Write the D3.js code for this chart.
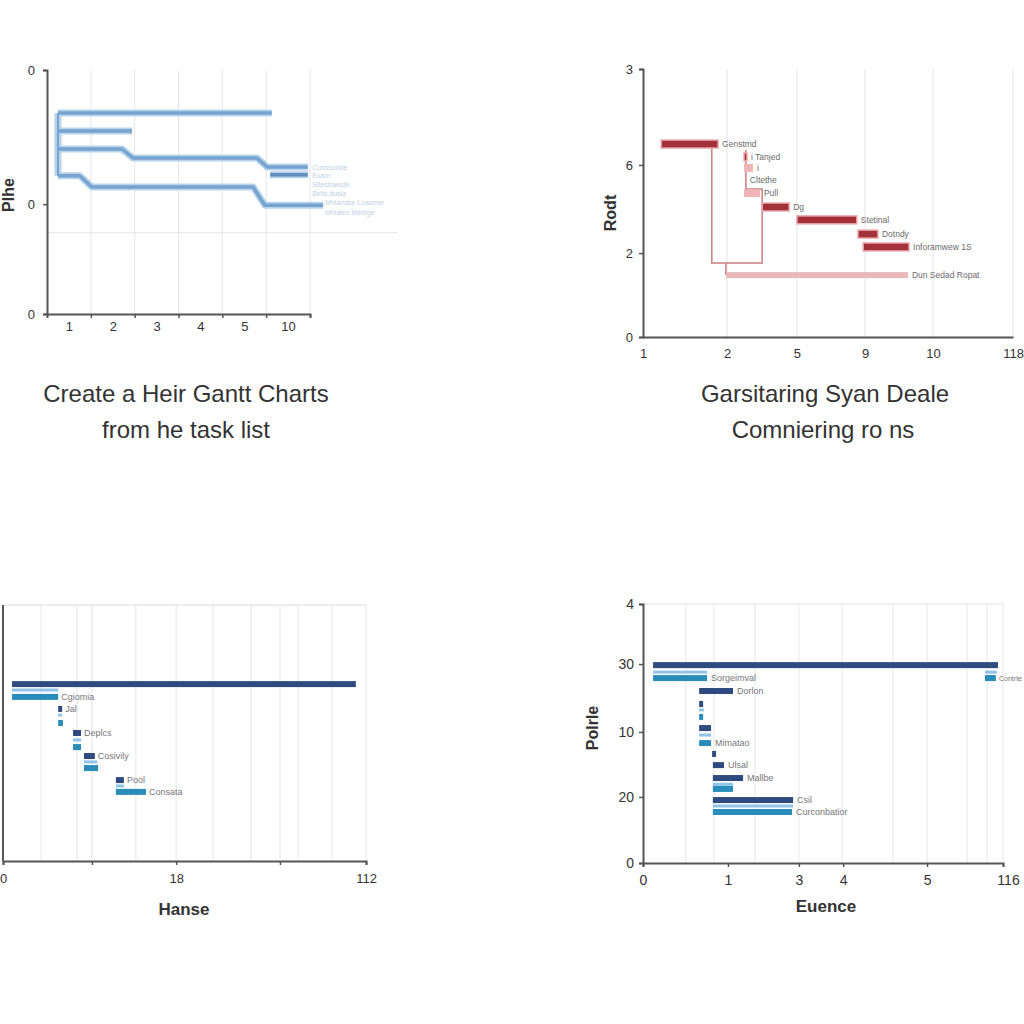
<!DOCTYPE html>
<html><head><meta charset="utf-8">
<script src="https://cdn.jsdelivr.net/npm/d3@7"></script>
<style>body{margin:0;background:#fff}svg{display:block}text{font-family:"Liberation Sans",Arial,sans-serif}</style>
</head><body><svg id="c" width="1024" height="1024"></svg>
<script>
// ---------- Panel 1 (top-left): step lines ----------
const p1GridTicks = [1, 2, 3, 4, 5, 6];
const p1XLabelPos = [0.5, 1.5, 2.5, 3.5, 4.5, 5.5];
const p1XLabels = ["1", "2", "3", "4", "5", "10"];
const p1YTicks = [0, 13.2, 24];
const p1YLabels = ["0", "0", "0"];
const p1HGrid = [16];
const p1Lines = [
  [[0.25, 4.23], [5.13, 4.23]],
  [[0.25, 6.0], [1.94, 6.0]],
  [[0.25, 7.77], [1.71, 7.77], [1.96, 8.65], [4.79, 8.65], [5.02, 9.54], [5.95, 9.54]],
  [[0.25, 10.4], [0.75, 10.4], [1.02, 11.5], [4.70, 11.5], [4.97, 13.3], [6.30, 13.3]],
  [[0.25, 4.23], [0.25, 10.4]],
  [[5.09, 10.3], [5.95, 10.3]]
];
const p1FadedText = ["Cusssorste", "Exam", "Sitestraeste", "Bells dusla", "Mhlandse Loasmer", "Mhlates Medige"];
const p1FadedX = [6.05, 6.05, 6.05, 6.05, 6.34, 6.34];
const p1FadedY = [9.54, 10.3, 11.2, 12.1, 13.0, 14.0];

// ---------- Panel 2 (top-right): red gantt ----------
const p2XTicks = [0, 22.7, 41.6, 60, 78.4, 100];
const p2XLabels = ["1", "2", "5", "9", "10", "118"];
const p2YTicks = [100, 64.2, 31.3, 0];
const p2YLabels = ["3", "6", "2", "0"];
const p2Tasks = ["Genstmd", "i Tanjed", "i", "Cltethe", "Pull", "Dg", "Stetinal", "Dotndy", "Inforamwew 1S", "Dun Sedad Ropat"];
const p2Start = [4.9, 27.3, 27.3, 27.8, 27.3, 32.2, 41.6, 58.1, 59.5, 22.4];
const p2End   = [20.3, 28.1, 29.7, 27.8, 31.6, 39.5, 57.8, 63.5, 71.9, 71.6];
const p2Row   = [72.0, 67.2, 63.1, 58.6, 53.7, 48.5, 43.7, 38.4, 33.6, 23.1];
const p2Kind  = ["d", "d", "p", "p", "p", "d", "d", "d", "d", "l"];
const p2Links = [
  [[18.6, 72.0], [18.6, 27.6], [32.2, 27.6], [32.2, 55.2], [27.8, 55.2], [27.8, 69.8]],
  [[22.4, 27.6], [22.4, 23.1]]
];

// ---------- Panel 3 (bottom-left): blue gantt ----------
const p3Grid = [10.5, 20.4, 24.5, 36.6, 47.7, 57.9, 68.3, 76.3, 81.3, 90.6, 100];
const p3XTicks = [0, 24.5, 47.7, 76.3, 100];
const p3XLabels = ["0", "", "18", "", "112"];
const p3Names = ["", "", "Cgiomia", "Jal", "", "", "Deplcs", "", "", "Cosivily", "", "", "Pool", "", "Consata"];
const p3Start = [2.5, 2.5, 2.5, 15.2, 15.2, 15.2, 19.3, 19.3, 19.3, 22.3, 22.3, 22.3, 31.1, 31.1, 31.1];
const p3End   = [97.2, 15.2, 15.2, 16.3, 16.3, 16.5, 21.5, 21.5, 21.5, 25.3, 26.0, 26.2, 33.3, 33.3, 39.4];
const p3Row   = [69.1, 66.8, 64.1, 59.4, 57.0, 53.9, 50.0, 47.3, 44.5, 41.0, 38.7, 36.3, 31.6, 29.3, 27.0];
const p3Kind  = ["n", "l", "t", "n", "l", "t", "n", "l", "t", "n", "l", "t", "n", "l", "t"];

// ---------- Panel 4 (bottom-right): blue gantt ----------
const p4Grid = [11.9, 19.7, 31.1, 43.3, 55.3, 69.4, 78.9, 90.0, 95.6, 100];
const p4XTicks = [0, 23.6, 43.3, 55.6, 78.9, 100];
const p4XLabels = ["0", "1", "3", "4", "5", "116"];
const p4YTicks = [100, 76.8, 50.6, 25.5, 0];
const p4YLabels = ["4", "30", "10", "20", "0"];
const p4Names = ["", "", "Sorgeimval", "", "Contrte", "Dorlon", "", "", "", "", "", "Mimatao", "", "Ulsal", "Mallbe", "", "", "Csil", "", "Curconbatior"];
const p4Start = [2.8, 2.8, 2.8, 95.0, 95.0, 15.6, 15.6, 15.6, 15.6, 15.6, 15.6, 15.6, 19.2, 19.4, 19.4, 19.4, 19.4, 19.4, 19.4, 19.4];
const p4End   = [98.6, 17.8, 17.8, 98.3, 98.0, 25.0, 16.7, 16.9, 16.7, 18.9, 18.9, 18.9, 20.3, 22.5, 27.8, 25.0, 25.0, 41.7, 41.7, 41.4];
const p4Row   = [76.4, 73.7, 71.4, 73.7, 71.4, 66.4, 61.4, 59.1, 56.4, 52.1, 49.4, 46.3, 42.1, 37.8, 32.8, 30.4, 28.6, 24.3, 22.0, 19.7];
const p4Kind  = ["n", "l", "t", "l", "t", "n", "n", "l", "t", "n", "l", "t", "n", "n", "n", "l", "t", "n", "l", "t"];

const svg = d3.select("#c");
const AX = "#555", GRID = "#e4e6ea", TXT = "#333";
function styleAxis(g, size) {
  g.select(".domain").attr("stroke", AX).attr("stroke-width", 2);
  g.selectAll(".tick line").attr("stroke", AX).attr("stroke-width", 1.5);
  g.selectAll(".tick text").attr("fill", TXT).style("font-size", size + "px")
    .style("font-family", '"Liberation Sans",Arial,sans-serif');
}

// ===== Panel 1 =====
{
  const x = d3.scaleLinear().domain([0, 6]).range([47, 310]);
  const y = d3.scaleLinear().domain([0, 24]).range([70, 314]);
  const g = svg.append("g");
  g.selectAll(".vg").data(p1GridTicks).join("line")
    .attr("x1", d => x(d)).attr("x2", d => x(d)).attr("y1", y(0)).attr("y2", y(24))
    .attr("stroke", GRID).attr("stroke-width", 1);
  g.selectAll(".hg").data(p1HGrid).join("line")
    .attr("x1", x(0)).attr("x2", x(8)).attr("y1", d => y(d)).attr("y2", d => y(d))
    .attr("stroke", GRID).attr("stroke-width", 1);
  const xa = g.append("g").attr("transform", `translate(0,${y(24)})`)
    .call(d3.axisBottom(x).tickValues(p1GridTicks).tickFormat("").tickSize(4));
  styleAxis(xa, 13);
  const xl = g.append("g").attr("transform", `translate(0,${y(24)})`)
    .call(d3.axisBottom(x).tickValues(p1XLabelPos).tickFormat((d, i) => p1XLabels[i]).tickSize(0).tickPadding(8));
  styleAxis(xl, 13); xl.select(".domain").remove();
  const ya = g.append("g").attr("transform", `translate(${x(0)},0)`)
    .call(d3.axisLeft(y).tickValues(p1YTicks).tickFormat((d, i) => p1YLabels[i]).tickSize(4).tickPadding(8));
  styleAxis(ya, 13);
  const line = d3.line().x(d => x(d[0])).y(d => y(d[1]));
  g.selectAll(".lo").data(p1Lines).join("path").attr("d", line)
    .attr("fill", "none").attr("stroke", "#b7d3ec").attr("stroke-width", 7).attr("stroke-linejoin", "round");
  g.selectAll(".li").data(p1Lines).join("path").attr("d", line)
    .attr("fill", "none").attr("stroke", (d, i) => i === 5 ? "#5f8fbd" : "#76a4cf")
    .attr("stroke-width", (d, i) => i === 4 ? 2 : 3.5).attr("stroke-linejoin", "round");
  g.selectAll(".ft").data(p1FadedText).join("text")
    .attr("x", (d, i) => x(p1FadedX[i])).attr("y", (d, i) => y(p1FadedY[i]) + 3)
    .attr("fill", "#bfd2e4").style("font-size", "7px").text(d => d);
  g.append("text").attr("transform", `translate(14,195) rotate(-90)`).attr("text-anchor", "middle")
    .attr("fill", TXT).style("font-size", "16px").style("font-weight", "bold").text("Plhe");
  g.append("text").attr("x", 186).attr("y", 402).attr("text-anchor", "middle").attr("fill", TXT)
    .style("font-size", "24px").text("Create a Heir Gantt Charts");
  g.append("text").attr("x", 186).attr("y", 438).attr("text-anchor", "middle").attr("fill", TXT)
    .style("font-size", "24px").text("from he task list");
}

// ===== Panel 2 =====
{
  const x = d3.scaleLinear().domain([0, 100]).range([643, 1013]);
  const y = d3.scaleLinear().domain([0, 100]).range([337, 69]);
  const g = svg.append("g");
  g.selectAll(".vg").data(p2XTicks.slice(1)).join("line")
    .attr("x1", d => x(d)).attr("x2", d => x(d)).attr("y1", y(0)).attr("y2", y(100))
    .attr("stroke", GRID);
  const xa = g.append("g").attr("transform", `translate(0,${y(0)})`)
    .call(d3.axisBottom(x).tickValues(p2XTicks).tickFormat((d, i) => p2XLabels[i]).tickSize(0).tickPadding(12));
  styleAxis(xa, 13);
  const ya = g.append("g").attr("transform", `translate(${x(0)},0)`)
    .call(d3.axisLeft(y).tickValues(p2YTicks).tickFormat((d, i) => p2YLabels[i]).tickSize(4).tickPadding(6));
  styleAxis(ya, 13);
  const line = d3.line().x(d => x(d[0])).y(d => y(d[1]));
  g.selectAll(".lk").data(p2Links).join("path").attr("d", line)
    .attr("fill", "none").attr("stroke", "#c97d82").attr("stroke-width", 1.5);
  const fill = { d: "#a2313a", p: "#efb4b6", l: "#ebb8b9" };
  g.selectAll(".b").data(p2Tasks).join("rect")
    .attr("x", (d, i) => x(p2Start[i])).attr("width", (d, i) => x(p2End[i]) - x(p2Start[i]))
    .attr("y", (d, i) => y(p2Row[i]) - (p2Kind[i] === "l" ? 3 : 4))
    .attr("height", (d, i) => p2Kind[i] === "l" ? 6 : 8)
    .attr("fill", (d, i) => fill[p2Kind[i]])
    .attr("stroke", (d, i) => p2Kind[i] === "d" ? "#ecaaae" : "none").attr("stroke-width", 1.5);
  g.selectAll(".bl").data(p2Tasks).join("text")
    .attr("x", (d, i) => x(p2End[i]) + 4).attr("y", (d, i) => y(p2Row[i]) + 3)
    .attr("fill", "#6b6b6b").style("font-size", "8.5px").text(d => d);
  g.append("text").attr("transform", `translate(616,213) rotate(-90)`).attr("text-anchor", "middle")
    .attr("fill", TXT).style("font-size", "16px").style("font-weight", "bold").text("Rodt");
  g.append("text").attr("x", 825).attr("y", 402).attr("text-anchor", "middle").attr("fill", TXT)
    .style("font-size", "24px").text("Garsitaring Syan Deale");
  g.append("text").attr("x", 823).attr("y", 438).attr("text-anchor", "middle").attr("fill", TXT)
    .style("font-size", "24px").text("Comniering ro ns");
}

const blueFill = { n: "#2f4a7f", l: "#8fc3ea", t: "#2a8cb8" };
const blueH = { n: 6, l: 3, t: 6 };

// ===== Panel 3 =====
{
  const x = d3.scaleLinear().domain([0, 100]).range([3, 366]);
  const y = d3.scaleLinear().domain([0, 100]).range([861, 605]);
  const g = svg.append("g");
  g.selectAll(".vg").data(p3Grid).join("line")
    .attr("x1", d => x(d)).attr("x2", d => x(d)).attr("y1", y(0)).attr("y2", y(100))
    .attr("stroke", GRID);
  g.append("line").attr("x1", x(0)).attr("x2", x(100)).attr("y1", y(100)).attr("y2", y(100)).attr("stroke", "#d8dade");
  const xa = g.append("g").attr("transform", `translate(0,${y(0)})`)
    .call(d3.axisBottom(x).tickValues(p3XTicks).tickFormat((d, i) => p3XLabels[i]).tickSize(4).tickPadding(9));
  styleAxis(xa, 13);
  g.append("line").attr("x1", x(0)).attr("x2", x(0)).attr("y1", y(0)).attr("y2", y(100)).attr("stroke", AX).attr("stroke-width", 2);
  g.selectAll(".b").data(p3Names).join("rect")
    .attr("x", (d, i) => x(p3Start[i])).attr("width", (d, i) => x(p3End[i]) - x(p3Start[i]))
    .attr("y", (d, i) => y(p3Row[i]) - blueH[p3Kind[i]] / 2).attr("height", (d, i) => blueH[p3Kind[i]])
    .attr("fill", (d, i) => blueFill[p3Kind[i]]);
  g.selectAll(".bl").data(p3Names).join("text")
    .attr("x", (d, i) => x(p3End[i]) + 3).attr("y", (d, i) => y(p3Row[i]) + 3)
    .attr("fill", "#777").style("font-size", "9px").text(d => d);
  g.append("text").attr("x", 184).attr("y", 915).attr("text-anchor", "middle").attr("fill", TXT)
    .style("font-size", "17px").style("font-weight", "bold").text("Hanse");
}

// ===== Panel 4 =====
{
  const x = d3.scaleLinear().domain([0, 100]).range([643, 1003]);
  const y = d3.scaleLinear().domain([0, 100]).range([863, 604]);
  const g = svg.append("g");
  g.selectAll(".vg").data(p4Grid).join("line")
    .attr("x1", d => x(d)).attr("x2", d => x(d)).attr("y1", y(0)).attr("y2", y(100))
    .attr("stroke", GRID);
  g.append("line").attr("x1", x(0)).attr("x2", x(100)).attr("y1", y(100)).attr("y2", y(100)).attr("stroke", "#e0e2e6");
  const xa = g.append("g").attr("transform", `translate(0,${y(0)})`)
    .call(d3.axisBottom(x).tickValues(p4XTicks).tickFormat((d, i) => p4XLabels[i]).tickSize(4).tickPadding(8));
  styleAxis(xa, 14);
  xa.selectAll(".tick text").filter((d, i) => i === p4XTicks.length - 1).attr("dx", 5);
  const ya = g.append("g").attr("transform", `translate(${x(0)},0)`)
    .call(d3.axisLeft(y).tickValues(p4YTicks).tickFormat((d, i) => p4YLabels[i]).tickSize(4).tickPadding(5));
  styleAxis(ya, 14);
  g.selectAll(".b").data(p4Names).join("rect")
    .attr("x", (d, i) => x(p4Start[i])).attr("width", (d, i) => x(p4End[i]) - x(p4Start[i]))
    .attr("y", (d, i) => y(p4Row[i]) - blueH[p4Kind[i]] / 2).attr("height", (d, i) => blueH[p4Kind[i]])
    .attr("fill", (d, i) => blueFill[p4Kind[i]]);
  g.selectAll(".bl").data(p4Names).join("text")
    .attr("x", (d, i) => x(p4End[i]) > 990 ? 1022 : x(p4End[i]) + 4)
    .attr("text-anchor", (d, i) => x(p4End[i]) > 990 ? "end" : "start")
    .attr("y", (d, i) => y(p4Row[i]) + 3)
    .attr("fill", "#777").style("font-size", (d, i) => x(p4End[i]) > 990 ? "7px" : "9px").text(d => d);
  g.append("text").attr("transform", `translate(598,728) rotate(-90)`).attr("text-anchor", "middle")
    .attr("fill", TXT).style("font-size", "16px").style("font-weight", "bold").text("Polrle");
  g.append("text").attr("x", 826).attr("y", 912).attr("text-anchor", "middle").attr("fill", TXT)
    .style("font-size", "17px").style("font-weight", "bold").text("Euence");
}
</script></body></html>
